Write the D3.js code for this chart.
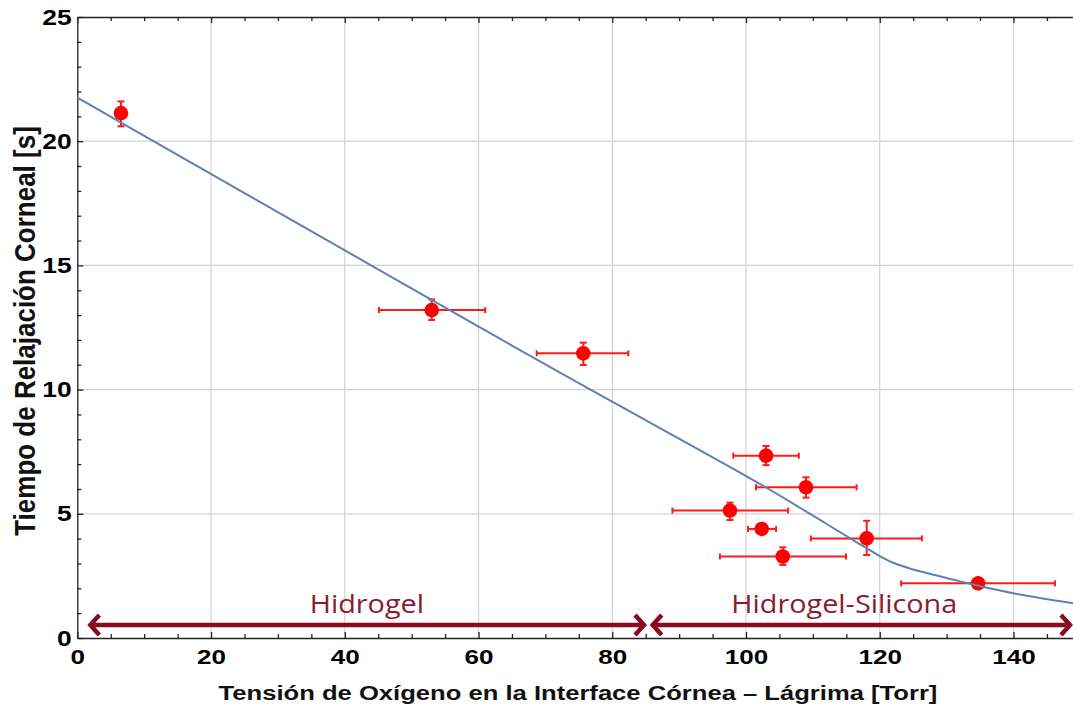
<!DOCTYPE html>
<html><head><meta charset="utf-8">
<script src="https://cdn.jsdelivr.net/npm/d3@7"></script>
<style>body{margin:0;background:#fff} svg{display:block}</style>
</head><body><svg id="chart" width="1073" height="711"></svg>
<script>
// ---- data ----
const pointX   = [6.53, 53.0, 75.67, 103.0, 108.97, 97.6, 102.35, 118.05, 105.5, 134.7];
const pointY   = [21.13, 13.2, 11.46, 7.34, 6.07, 5.13, 4.39, 4.01, 3.28, 2.2];
const xErrLow  = [null, 45.1, 68.7, 98.1, 101.5, 89.0, 100.3, 109.7, 96.1, 123.2];
const xErrHigh = [null, 61.0, 82.4, 107.9, 116.55, 106.3, 104.5, 126.3, 114.95, 146.2];
const yErrLow  = [20.6, 12.8, 10.99, 6.96, 5.65, 4.75, 4.24, 3.34, 2.94, null];
const yErrHigh = [21.6, 13.63, 11.89, 7.73, 6.47, 5.45, 4.54, 4.72, 3.65, null];

const fitX = [0, 48.25, 72.19, 102.1, 112.0, 117.0, 120.0, 122.0, 124.5, 128.0, 132.0, 140.0, 148.9];
const fitY = [21.75, 14.34, 10.68, 6.20, 4.60, 3.78, 3.30, 3.03, 2.80, 2.55, 2.28, 1.80, 1.40];

const xTicks = [0, 20, 40, 60, 80, 100, 120, 140];
const yTicks = [0, 5, 10, 15, 20, 25];

const regionLabels = ["Hidrogel", "Hidrogel-Silicona"];
const regionStart  = [1.8, 85.9];
const regionEnd    = [84.9, 148.6];
const regionLabelX = [43.3, 114.7];
const arrowY = 0.52;
const regionLabelY = 1.0;

const xTitle = "Tensión de Oxígeno en la Interface Córnea – Lágrima [Torr]";
const yTitle = "Tiempo de Relajación Corneal [s]";

// ---- scales ----
const svg = d3.select("#chart");
const x = d3.scaleLinear().domain([0, 148.9]).range([77.3, 1073]);
const y = d3.scaleLinear().domain([0, 25]).range([638, 17]);
const axisCol = "#222";

// grid
const grid = svg.append("g");
grid.selectAll(".gx").data(xTicks.filter(v => v > 0)).join("line")
  .attr("x1", d => x(d)).attr("x2", d => x(d)).attr("y1", y(0)).attr("y2", y(25))
  .attr("stroke", "#d2d2d2").attr("stroke-width", 1.2);
grid.selectAll(".gy").data(yTicks.filter(v => v > 0 && v < 25)).join("line")
  .attr("y1", d => y(d)).attr("y2", d => y(d)).attr("x1", x(0)).attr("x2", x(148.9))
  .attr("stroke", "#d2d2d2").attr("stroke-width", 1.2);

const xMinor = d3.range(0, 149, 5).filter(v => v % 20 !== 0);
const yMinor = d3.range(0, 25, 1).filter(v => v % 5 !== 0);

function styleAxis(g) {
  g.selectAll("path, line").attr("stroke", axisCol).attr("stroke-width", 1.3);
}

// bottom axis
const gb = svg.append("g").attr("transform", `translate(0,${y(0)})`)
  .call(d3.axisBottom(x).tickValues(xTicks).tickSizeInner(-6).tickSizeOuter(0).tickPadding(11));
styleAxis(gb);
gb.selectAll("text").attr("font-family", "'Liberation Sans', Arial, sans-serif")
  .attr("font-weight", "bold").attr("font-size", 20.5).attr("fill", "#000")
  .attr("transform", "scale(1.27,1)");
const gbm = svg.append("g").attr("transform", `translate(0,${y(0)})`)
  .call(d3.axisBottom(x).tickValues(xMinor).tickSizeInner(-4).tickSizeOuter(0).tickFormat(""));
gbm.select(".domain").remove(); styleAxis(gbm);

// top frame
const gt = svg.append("g").attr("transform", `translate(0,${y(25)})`)
  .call(d3.axisTop(x).tickValues(xTicks).tickSizeInner(-6).tickSizeOuter(0).tickFormat(""));
styleAxis(gt);
const gtm = svg.append("g").attr("transform", `translate(0,${y(25)})`)
  .call(d3.axisTop(x).tickValues(xMinor).tickSizeInner(-4).tickSizeOuter(0).tickFormat(""));
gtm.select(".domain").remove(); styleAxis(gtm);

// left axis
const gl = svg.append("g").attr("transform", `translate(${x(0)},0)`)
  .call(d3.axisLeft(y).tickValues(yTicks).tickSizeInner(-6).tickSizeOuter(0).tickPadding(4.7));
styleAxis(gl);
gl.selectAll("text").attr("font-family", "'Liberation Sans', Arial, sans-serif")
  .attr("font-weight", "bold").attr("font-size", 22).attr("fill", "#000")
  .attr("transform", "scale(1.2,1)");
const glm = svg.append("g").attr("transform", `translate(${x(0)},0)`)
  .call(d3.axisLeft(y).tickValues(yMinor).tickSizeInner(-4).tickSizeOuter(0).tickFormat(""));
glm.select(".domain").remove(); styleAxis(glm);

// error bars
const idx = d3.range(pointX.length);
const eb = svg.append("g").attr("stroke", "#ff1a1a").attr("stroke-width", 2).attr("fill", "none");
idx.filter(i => xErrLow[i] !== null).forEach(i => {
  const py = y(pointY[i]);
  eb.append("line").attr("x1", x(xErrLow[i])).attr("x2", x(xErrHigh[i])).attr("y1", py).attr("y2", py);
  [xErrLow[i], xErrHigh[i]].forEach(v => eb.append("line")
    .attr("x1", x(v)).attr("x2", x(v)).attr("y1", py - 3).attr("y2", py + 3));
});
idx.filter(i => yErrLow[i] !== null).forEach(i => {
  const px = x(pointX[i]);
  eb.append("line").attr("x1", px).attr("x2", px).attr("y1", y(yErrLow[i])).attr("y2", y(yErrHigh[i]));
  [yErrLow[i], yErrHigh[i]].forEach(v => eb.append("line")
    .attr("x1", px - 3.5).attr("x2", px + 3.5).attr("y1", y(v)).attr("y2", y(v)));
});

// points
svg.append("g").selectAll("circle").data(idx).join("circle")
  .attr("cx", i => x(pointX[i])).attr("cy", i => y(pointY[i])).attr("r", 7.3)
  .attr("fill", "#ff0000");

// fit curve
const line = d3.line().x(i => x(fitX[i])).y(i => y(fitY[i])).curve(d3.curveCatmullRom.alpha(0.5));
svg.append("path").attr("d", line(d3.range(fitX.length)))
  .attr("fill", "none").attr("stroke", "#5e81b5").attr("stroke-width", 2);

// region arrows
const arrowCol = "#8b0a22";
const ag = svg.append("g").attr("stroke", arrowCol).attr("stroke-width", 4.5).attr("fill", "none");
const ay = y(arrowY);
regionLabels.forEach((lab, i) => {
  const a = x(regionStart[i]), b = x(regionEnd[i]);
  ag.append("line").attr("x1", a + 2).attr("x2", b - 2).attr("y1", ay).attr("y2", ay);
  ag.append("path").attr("d", `M${a + 10},${ay - 10} L${a + 1},${ay} L${a + 10},${ay + 10}`);
  ag.append("path").attr("d", `M${b - 10},${ay - 10} L${b - 1},${ay} L${b - 10},${ay + 10}`);
  svg.append("text").text(lab)
    .attr("transform", `translate(${x(regionLabelX[i])},${y(regionLabelY)}) scale(1.13,1)`)
    .attr("text-anchor", "middle").attr("font-family", "'Open Sans', sans-serif")
    .attr("font-size", 25.5).attr("fill", "#8b1a30");
});

// axis titles
svg.append("text").text(xTitle)
  .attr("transform", "translate(578,700) scale(1.28,1)")
  .attr("text-anchor", "middle").attr("font-family", "'Liberation Sans', Arial, sans-serif")
  .attr("font-weight", "bold").attr("font-size", 20).attr("fill", "#111");
svg.append("text").text(yTitle)
  .attr("transform", "translate(35,331) rotate(-90) scale(1,1.15)")
  .attr("text-anchor", "middle").attr("font-family", "'Liberation Sans', Arial, sans-serif")
  .attr("font-weight", "bold").attr("font-size", 26).attr("fill", "#111");
</script>
</body></html>
